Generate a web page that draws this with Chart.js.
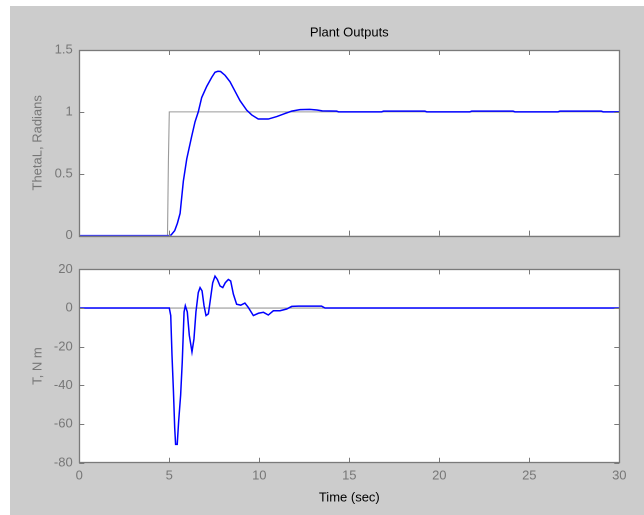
<!DOCTYPE html>
<html>
<head>
<meta charset="utf-8">
<script src="https://cdn.jsdelivr.net/npm/chart.js@4.4.0/dist/chart.umd.min.js"></script>
<style>
  html, body { margin: 0; padding: 0; background: #ffffff; }
  body { width: 644px; height: 515px; position: relative; overflow: hidden; }
  #fig { position: absolute; left: 10px; top: 6px; right: 0; bottom: 0; background: #cccccc; }
  canvas { position: absolute; left: 0; }
  #c1 { top: 0; }
  #c2 { top: 255px; }
</style>
</head>
<body>
<div id="fig"></div>
<canvas id="c1" width="644" height="250"></canvas>
<canvas id="c2" width="644" height="260"></canvas>
<script>
// ---- data ----
const thetaTime = [0, 5.0, 5.1, 5.3, 5.45, 5.6, 5.78, 5.97, 6.24, 6.43, 6.61, 6.8, 7.08, 7.36, 7.54, 7.7, 7.85, 8.1, 8.37, 8.65, 8.93, 9.3, 9.58, 9.94, 10.5, 10.97, 11.4, 11.8, 12.26, 12.8, 13.2, 13.5, 14.3, 14.4, 16.8, 16.9, 19.2, 19.3, 21.7, 21.8, 24.1, 24.2, 26.6, 26.7, 29.0, 29.1, 30];
const thetaVals = [0, 0, 0.005, 0.04, 0.1, 0.18, 0.44, 0.62, 0.80, 0.92, 1.0, 1.116, 1.206, 1.28, 1.32, 1.328, 1.326, 1.295, 1.244, 1.167, 1.09, 1.014, 0.975, 0.942, 0.942, 0.962, 0.985, 1.006, 1.018, 1.02, 1.015, 1.008, 1.006, 1.0, 1.0, 1.006, 1.006, 1.0, 1.0, 1.006, 1.006, 1.0, 1.0, 1.006, 1.006, 1.0, 1.0];
const refTime = [0, 4.9, 4.95, 5.0, 30];
const refVals = [0, 0, 0.6, 1, 1];
const torqueTime = [0, 5.0, 5.08, 5.15, 5.23, 5.30, 5.35, 5.44, 5.52, 5.63, 5.72, 5.82, 5.89, 6.0, 6.11, 6.26, 6.37, 6.48, 6.61, 6.71, 6.82, 6.93, 7.04, 7.17, 7.26, 7.41, 7.54, 7.67, 7.82, 7.97, 8.11, 8.28, 8.41, 8.56, 8.74, 8.97, 9.2, 9.39, 9.67, 9.95, 10.23, 10.5, 10.78, 11.15, 11.52, 11.8, 12.17, 13.46, 13.65, 30];
const torqueVals = [0, 0, -3.9, -24.4, -43, -62, -70.5, -70.5, -58.5, -45, -27.8, -2, 1.2, -2, -14, -22.7, -16, -2, 8, 10.6, 8.9, 1.2, -3.9, -3, 2.9, 13, 16.5, 14.8, 11.4, 10.6, 13.1, 14.8, 14, 7.2, 2, 1.5, 2.6, 0.3, -3.9, -2.7, -2.2, -3.6, -1.4, -1.4, -0.5, 0.85, 1.0, 1.0, 0, 0];
const torqueRefTime = [0, 30];
const torqueRefVals = [0, 0];
const xTicks = [0, 5, 10, 15, 20, 25, 30];
const topYTicks = [0, 0.5, 1, 1.5];
const bottomYTicks = [-80, -60, -40, -20, 0, 20];
const titleText = 'Plant Outputs';
const topYLabel = 'ThetaL, Radians';
const bottomYLabel = 'T, N m';
const xLabel = 'Time (sec)';

const FONT = "'Liberation Sans', Arial, Helvetica, sans-serif";
const TICK_COLOR = '#777777';
const BOX_COLOR = '#7a7a7a';

function pts(xs, ys) { return xs.map((x, i) => ({ x: x, y: ys[i] })); }

const matlabAxes = {
  id: 'matlabAxes',
  beforeDraw(chart) {
    const a = chart.chartArea, ctx = chart.ctx;
    ctx.save();
    ctx.fillStyle = '#ffffff';
    ctx.fillRect(a.left, a.top, a.right - a.left, a.bottom - a.top);
    ctx.restore();
  },
  afterDraw(chart, args, opts) {
    const a = chart.chartArea, ctx = chart.ctx;
    const xs = chart.scales.x, ys = chart.scales.y;
    const L = 5;
    ctx.save();
    ctx.strokeStyle = BOX_COLOR;
    ctx.lineWidth = 1;
    ctx.beginPath();
    opts.xTicks.forEach(v => {
      const p = Math.round(xs.getPixelForValue(v)) + 0.5;
      ctx.moveTo(p, a.bottom); ctx.lineTo(p, a.bottom - L);
      ctx.moveTo(p, a.top); ctx.lineTo(p, a.top + L);
    });
    opts.yTicks.forEach(v => {
      const p = Math.round(ys.getPixelForValue(v)) + 0.5;
      ctx.moveTo(a.left, p); ctx.lineTo(a.left + L, p);
      ctx.moveTo(a.right, p); ctx.lineTo(a.right - L, p);
    });
    ctx.stroke();
    ctx.lineWidth = 1.3;
    ctx.strokeRect(Math.round(a.left) + 0.5, Math.round(a.top) + 0.5, Math.round(a.right - a.left), Math.round(a.bottom - a.top));
    ctx.restore();
  }
};

function makeChart(id, cfg) {
  return new Chart(document.getElementById(id), {
    type: 'line',
    data: { datasets: cfg.datasets },
    options: {
      responsive: false,
      animation: false,
      devicePixelRatio: 2,
      layout: { padding: cfg.padding },
      elements: { point: { radius: 0 }, line: { tension: 0 } },
      plugins: {
        legend: { display: false },
        tooltip: { enabled: false },
        title: cfg.title,
        matlabAxes: { xTicks: xTicks, yTicks: cfg.yTicks }
      },
      scales: {
        x: {
          type: 'linear', min: 0, max: 30,
          afterBuildTicks: s => { s.ticks = xTicks.map(v => ({ value: v })); },
          afterFit: s => { s.height = cfg.xHeight; },
          grid: { display: false, drawTicks: false },
          border: { display: false },
          ticks: { display: cfg.showXTicks, padding: 5.2, color: TICK_COLOR, font: { family: FONT, size: 13 }, maxRotation: 0, autoSkip: false, callback: v => String(v) },
          title: cfg.xTitle
        },
        y: {
          type: 'linear', min: cfg.yMin, max: cfg.yMax,
          afterBuildTicks: s => { s.ticks = cfg.yTicks.map(v => ({ value: v })); },
          afterFit: s => { s.width = 79.3; },
          grid: { display: false, drawTicks: false },
          border: { display: false },
          ticks: { padding: 6.6, color: TICK_COLOR, font: { family: FONT, size: 13 }, autoSkip: false, callback: v => String(v) },
          title: { display: true, text: cfg.yLabel, color: TICK_COLOR, font: { family: FONT, size: 13 }, padding: { top: 30.2, bottom: 0 } }
        }
      }
    },
    plugins: [matlabAxes]
  });
}

makeChart('c1', {
  padding: { left: 0, right: 24.7, top: 0, bottom: 0 },
  title: { display: true, fullSize: false, text: titleText, color: '#000000', font: { family: FONT, size: 13, weight: 'normal' }, padding: { top: 25.2, bottom: 9.2 } },
  xHeight: 4.7,
  showXTicks: false,
  xTitle: { display: false },
  yMin: 0, yMax: 1.5, yTicks: topYTicks, yLabel: topYLabel,
  datasets: [
    { data: pts(thetaTime, thetaVals), borderColor: '#0000ff', borderWidth: 1.5, fill: false },
    { data: pts(refTime, refVals), borderColor: '#9a9a9a', borderWidth: 1.1, fill: false }
  ]
});

makeChart('c2', {
  padding: { left: 0, right: 24.7, top: 12.3, bottom: 0 },
  title: { display: false },
  xHeight: 52.3,
  showXTicks: true,
  xTitle: { display: true, text: xLabel, color: '#000000', font: { family: FONT, size: 13 }, padding: { top: 0, bottom: 9.2 } },
  yMin: -80, yMax: 20, yTicks: bottomYTicks, yLabel: bottomYLabel,
  datasets: [
    { data: pts(torqueTime, torqueVals), borderColor: '#0000ff', borderWidth: 1.5, fill: false },
    { data: pts(torqueRefTime, torqueRefVals), borderColor: '#9a9a9a', borderWidth: 1.1, fill: false }
  ]
});
</script>
</body>
</html>
